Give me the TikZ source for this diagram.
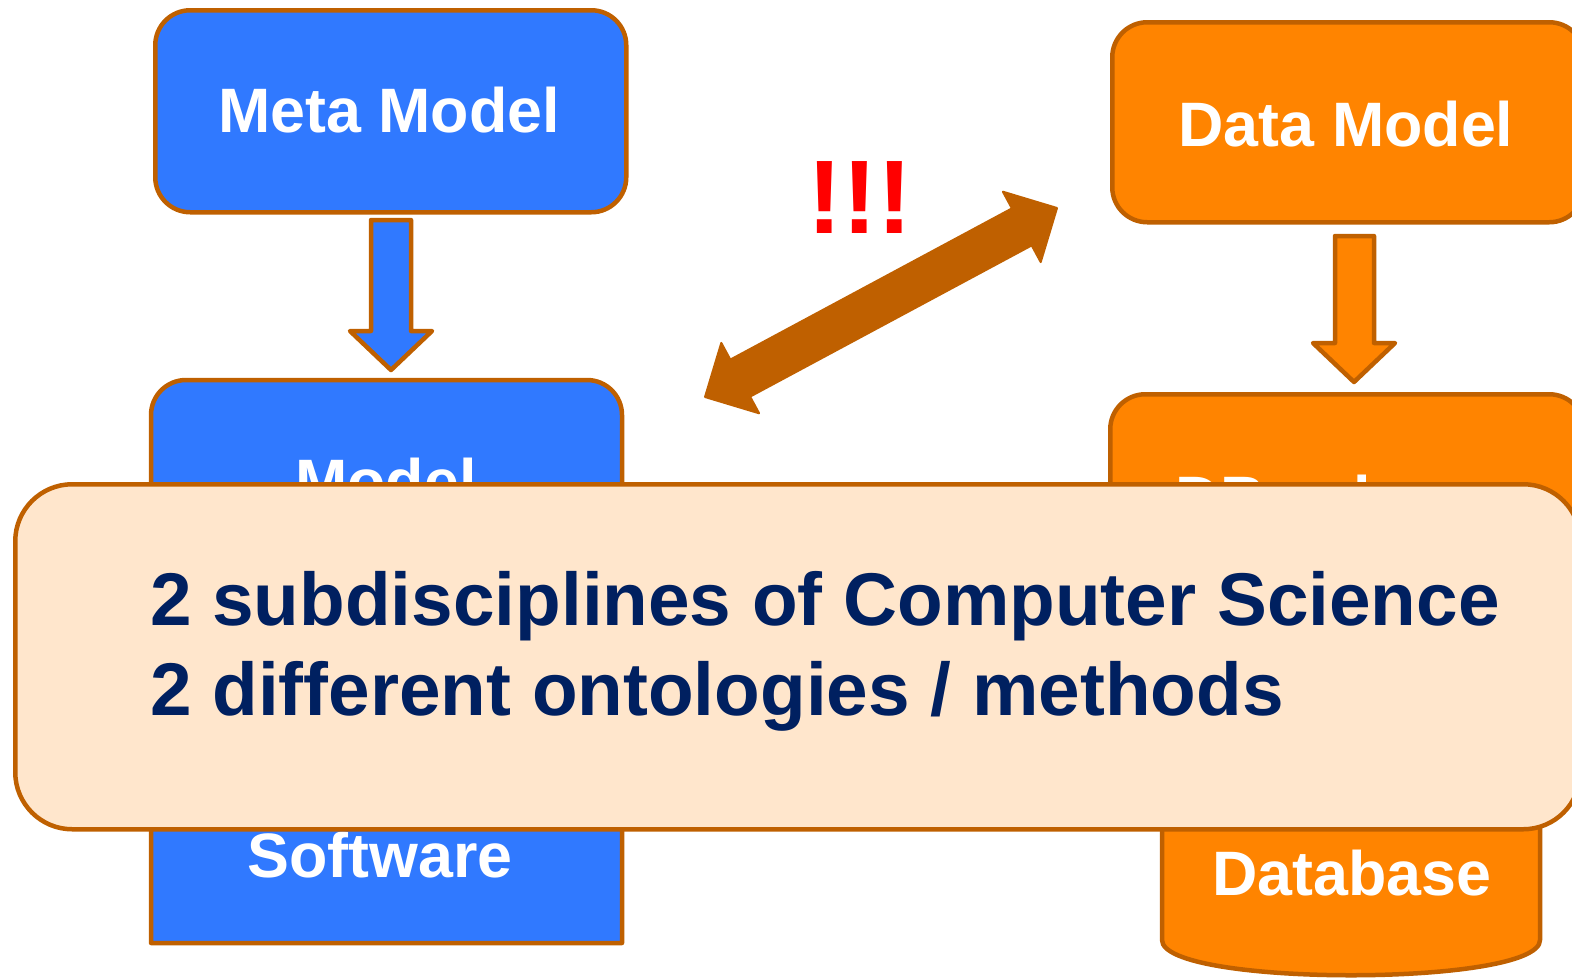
\documentclass[tikz,border=0pt]{standalone}
\usepackage{fontspec}
\setmainfont{Liberation Sans}
\definecolor{boxblue}{HTML}{3079FF}
\definecolor{boxorange}{HTML}{FF8400}
\definecolor{rimbrown}{HTML}{BF6000}
\definecolor{panelfill}{HTML}{FFE6CC}
\definecolor{navy}{HTML}{002060}

\begin{document}
\begin{tikzpicture}[x=1bp, y=-1bp, line join=round,
  rim/.style={draw=rimbrown, line width=4.5bp},
  bluebox/.style={rim, fill=boxblue},
  orangebox/.style={rim, fill=boxorange},
  roundbox/.style={rounded corners=35bp, inner sep=0, anchor=north west},
  boxlabel/.style={text=white, font=\fontsize{63}{63}\selectfont\bfseries, anchor=base, inner sep=0},
  panellabel/.style={text=navy, font=\fontsize{75}{75}\selectfont\bfseries, anchor=base west, inner sep=0},
  bigarrow/.style={fill=rimbrown, draw=rimbrown, line width=2bp, line join=round}]
\clip (0,0) rectangle (1572,979);

% left column: model / software block (rounded top, square bottom)
\draw[bluebox] (151,943) {[rounded corners=35bp] -- (151,380) -- (622,380)} -- (622,943) -- cycle;
\node[boxlabel] (model) at (386,503) {Model};
\node[boxlabel] (software) at (380,877) {Software};

% right column: schema block and database cylinder
\draw[orangebox] (1162,700) -- (1162,940)
  .. controls (1162,987) and (1540,987) .. (1540,940) -- (1540,700) -- cycle;
\node[boxlabel] (database) at (1352,895) {Database};
\node[orangebox, roundbox, minimum width=474bp, minimum height=330bp] (dbbox) at (1108,392) {};
\node[boxlabel, anchor=base west] (schema) at (1175,520) {DB schema};

% top boxes
\node[bluebox, roundbox, minimum width=471bp, minimum height=202bp] (meta) at (153,8) {};
\node[boxlabel] (metatext) at (389,132) {Meta Model};
\node[orangebox, roundbox, minimum width=472bp, minimum height=200bp] (data) at (1110,20) {};
\node[boxlabel] (datatext) at (1346,146) {Data Model};

% downward block arrows
\draw[bluebox] (371,220) -- (411,220) -- (411,331) -- (432,331) -- (391,370)
  -- (350,331) -- (371,331) -- cycle;
\draw[orangebox] (1335,236) -- (1374,236) -- (1374,343) -- (1395,343) -- (1354,382)
  -- (1313,343) -- (1335,343) -- cycle;

% double-headed arrow between the two sides
\draw[bigarrow] (1057,208) -- (1040.7,262.1) -- (1031.7,245.4) -- (750.1,396.6)
  -- (759.1,413.3) -- (705,397) -- (721.3,342.9) -- (730.3,359.6)
  -- (1011.9,208.4) -- (1002.9,191.7) -- cycle;
\node[text=red, font=\fontsize{105}{105}\selectfont\bfseries, anchor=base, inner sep=0] (bang) at (860,233) {!!!};

% overlay panel
\node[rim, fill=panelfill, rounded corners=57bp, inner sep=0, anchor=north west,
      minimum width=1565bp, minimum height=345bp] (panel) at (13,482) {};
\node[panellabel] (line1) at (150,625) {2 subdisciplines of Computer Science};
\node[panellabel] (line2) at (150,715) {2 different ontologies / methods};
\end{tikzpicture}
\end{document}
